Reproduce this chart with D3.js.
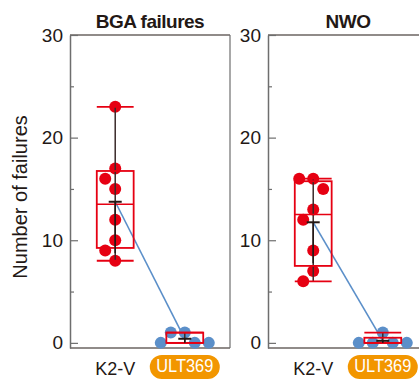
<!DOCTYPE html>
<html>
<head>
<meta charset="utf-8">
<script src="https://cdn.jsdelivr.net/npm/d3@7"></script>
<style>
  body { margin: 0; background: #fff; }
  text { font-family: "Liberation Sans", Arial, sans-serif; fill: #231815; }
</style>
</head>
<body>
<div id="chart"></div>
<script>
// data
const panels = ['BGA failures', 'NWO'];
const groups = ['K2-V', 'ULT369'];
const bgaK2V = [23, 17, 16, 15, 12, 10, 9, 8];
const bgaULT = [1, 1, 0, 0, 0];
const nwoK2V = [16, 16, 15, 13, 12, 9, 7, 6];
const nwoULT = [1, 0, 0, 0, 0];
const majorTicks = [0, 10, 20, 30];
const minorTicks = [5, 15, 25];
const yLabel = 'Number of failures';

const series = {
    'BGA failures': { 'K2-V': bgaK2V, 'ULT369': bgaULT },
    'NWO': { 'K2-V': nwoK2V, 'ULT369': nwoULT }
};

const RED = '#e60012';
const BLUE = '#5b8fc9';
const ORANGE = '#f29600';
const GREY = '#6e6e6e';
const width = 419;
const height = 379;
const topY = 35;
const baseY = 348;
const panelW = 160;
const R = 6;

const svg = d3.select('#chart').append('svg')
    .attr('width', width).attr('height', height);

const y = d3.scaleLinear().domain([-0.5, 30]).range([baseY, topY]);
const px = d3.scalePoint().domain(panels).range([70, 268]);

// quartiles, (n+1)p method
function quart(vals, p) {
    const s = vals.slice().sort(d3.ascending);
    let h = (s.length + 1) * p - 1;
    h = Math.max(0, Math.min(s.length - 1, h));
    const lo = Math.floor(h);
    const hi = Math.min(s.length - 1, lo + 1);
    return s[lo] + (h - lo) * (s[hi] - s[lo]);
}

// simple beeswarm so dots don't sit on each other
function swarm(vals) {
    const placed = [];
    const sorted = vals.slice().sort(d3.descending);
    sorted.forEach((v) => {
        const cy = y(v);
        let dx = 0;
        for (let k = 0; k < 200; k++) {
            const cand = (k % 2 ? -1 : 1) * Math.ceil(k / 2);
            const ok = placed.every((p) => Math.hypot(p.dx - cand, p.cy - cy) >= 2 * R * 1.15);
            if (ok) { dx = cand; break; }
        }
        placed.push({ v: v, dx: dx, cy: cy });
    });
    return placed;
}

svg.append('text')
    .attr('transform', 'translate(27,' + (y(15) + 8) + ') rotate(-90)')
    .attr('text-anchor', 'middle')
    .style('font-size', '20px')
    .text(yLabel);

panels.forEach((name) => {
    const x0 = px(name);
    const g = svg.append('g');
    const x = d3.scaleBand().domain(groups).range([x0, x0 + panelW])
        .paddingOuter(0.15).paddingInner(0);
    const bw = x.bandwidth() * 0.53;
    const cx = (k) => x(k) + x.bandwidth() / 2;

    // frame
    g.append('line').attr('x1', x0).attr('x2', x0 + panelW).attr('y1', topY).attr('y2', topY)
        .attr('stroke', '#231815').attr('stroke-width', 1.2);
    g.append('line').attr('x1', x0).attr('x2', x0 + panelW).attr('y1', baseY).attr('y2', baseY)
        .attr('stroke', '#231815').attr('stroke-width', 1.2);
    g.append('line').attr('x1', x0 + panelW).attr('x2', x0 + panelW).attr('y1', topY).attr('y2', baseY)
        .attr('stroke', GREY).attr('stroke-width', 1.2);

    const ax = g.append('g').attr('transform', 'translate(' + x0 + ',0)')
        .call(d3.axisLeft(y).tickValues(majorTicks).tickSize(-8).tickSizeOuter(0).tickPadding(7));
    ax.select('.domain').attr('stroke', GREY).attr('stroke-width', 1.5);
    ax.selectAll('.tick line').attr('stroke', GREY).attr('stroke-width', 1.2);
    ax.selectAll('.tick text').style('font-size', '19px').style('font-family', '"Liberation Sans", Arial, sans-serif')
        .attr('fill', '#231815');
    const mn = g.append('g').attr('transform', 'translate(' + x0 + ',0)')
        .call(d3.axisLeft(y).tickValues(minorTicks).tickSize(-4).tickFormat(''));
    mn.select('.domain').remove();
    mn.selectAll('.tick line').attr('stroke', GREY).attr('stroke-width', 1.2);

    // title
    g.append('text')
        .attr('x', x0 + panelW / 2).attr('y', 28)
        .attr('text-anchor', 'middle')
        .style('font-size', '19px').style('font-weight', 'bold').style('letter-spacing', '-0.5px')
        .text(name);

    // x labels
    g.append('text').attr('x', cx('K2-V')).attr('y', 375).attr('text-anchor', 'middle')
        .style('font-size', '18px').text('K2-V');
    g.append('rect')
        .attr('x', cx('ULT369') - 35).attr('y', 355).attr('width', 70).attr('height', 24)
        .attr('rx', 12).attr('fill', ORANGE);
    g.append('text').attr('x', cx('ULT369')).attr('y', 372).attr('text-anchor', 'middle')
        .attr('textLength', 57).attr('lengthAdjust', 'spacingAndGlyphs')
        .style('font-size', '18.5px').style('fill', '#fff').text('ULT369');

    const stats = groups.map((k) => {
        const vals = series[name][k];
        return {
            key: k,
            vals: vals,
            min: d3.min(vals),
            max: d3.max(vals),
            q1: quart(vals, 0.25),
            med: quart(vals, 0.5),
            q3: quart(vals, 0.75),
            mean: d3.mean(vals),
            sd: d3.deviation(vals)
        };
    });

    // line linking the means
    g.append('path')
        .datum(stats)
        .attr('fill', 'none').attr('stroke', BLUE).attr('stroke-width', 1.6)
        .attr('d', d3.line().x((d) => cx(d.key)).y((d) => y(d.mean)));

    // dots
    stats.forEach((s) => {
        g.append('g').selectAll('circle').data(swarm(s.vals)).enter()
            .append('circle')
            .attr('cx', (d) => cx(s.key) + d.dx)
            .attr('cy', (d) => d.cy)
            .attr('r', R)
            .attr('fill', s.key === 'K2-V' ? RED : BLUE);
    });

    // box + whiskers
    stats.forEach((s) => {
        const c = cx(s.key);
        const b = g.append('g');
        b.append('line').attr('x1', c).attr('x2', c).attr('y1', y(s.max)).attr('y2', y(s.min))
            .attr('stroke', '#3a2a2a').attr('stroke-width', 1.5);
        [s.min, s.max].forEach((v) => {
            b.append('line').attr('x1', c - bw / 2).attr('x2', c + bw / 2)
                .attr('y1', y(v)).attr('y2', y(v))
                .attr('stroke', RED).attr('stroke-width', 1.8);
        });
        b.append('rect')
            .attr('x', c - bw / 2).attr('width', bw)
            .attr('y', y(s.q3)).attr('height', y(s.q1) - y(s.q3))
            .attr('fill', 'none').attr('stroke', RED).attr('stroke-width', 1.8);
        b.append('line').attr('x1', c - bw / 2).attr('x2', c + bw / 2)
            .attr('y1', y(s.med)).attr('y2', y(s.med))
            .attr('stroke', RED).attr('stroke-width', 1.5);

        // mean +- SD in black
        const lo = Math.max(0, s.mean - s.sd);
        b.append('line').attr('x1', c).attr('x2', c).attr('y1', y(s.mean)).attr('y2', y(lo))
            .attr('stroke', '#231815').attr('stroke-width', 1.6);
        b.append('line').attr('x1', c - 6.5).attr('x2', c + 6.5)
            .attr('y1', y(s.mean)).attr('y2', y(s.mean))
            .attr('stroke', '#231815').attr('stroke-width', 2);
    });
});
</script>
</body>
</html>
